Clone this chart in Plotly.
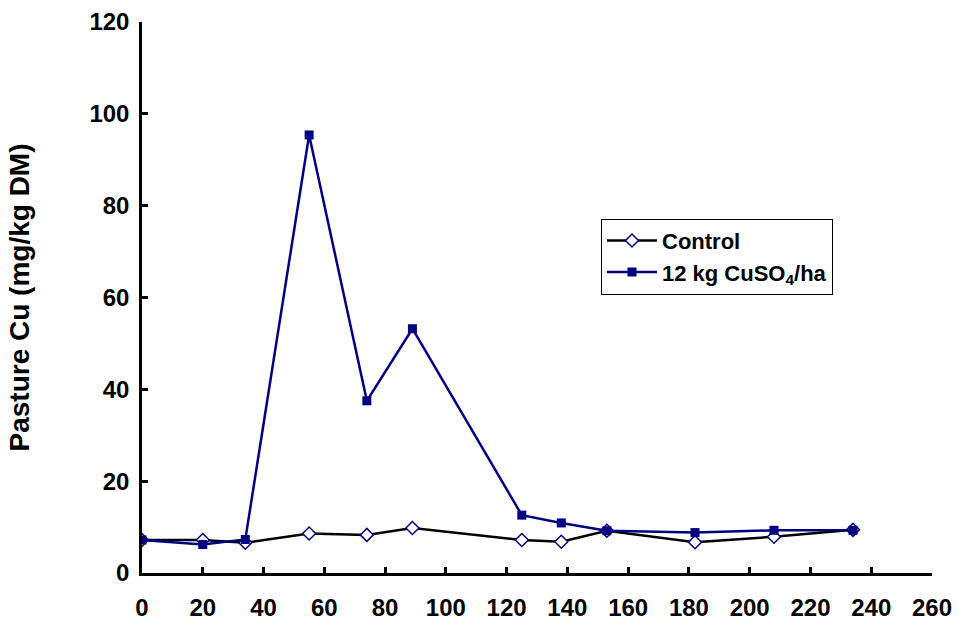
import plotly.graph_objects as go

days = [0, 20, 34, 55, 74, 89, 125, 138, 153, 182, 208, 234]
control = [7.2, 7.2, 6.6, 8.6, 8.3, 9.8, 7.2, 6.8, 9.2, 6.7, 7.9, 9.4]
treated = [7.2, 6.2, 7.3, 95.4, 37.5, 53.2, 12.6, 10.9, 9.2, 8.8, 9.3, 9.3]
x_ticks = list(range(0, 261, 20))
y_ticks = list(range(0, 121, 20))

NAVY = "#000080"
FONT = "Liberation Sans, Arial, sans-serif"

fig = go.Figure()
fig.add_trace(go.Scatter(
    x=days, y=control, mode="lines+markers", name="Control",
    line=dict(color="black", width=2.5),
    marker=dict(symbol="diamond", size=10, color="white", line=dict(color=NAVY, width=1.5)),
))
fig.add_trace(go.Scatter(
    x=days, y=treated, mode="lines+markers", name="12 kg CuSO<sub>4</sub>/ha",
    line=dict(color=NAVY, width=2.5),
    marker=dict(symbol="square", size=9, color=NAVY),
))

fig.update_layout(
    width=962, height=621,
    margin=dict(l=142, r=30, t=22, b=48, autoexpand=False),
    paper_bgcolor="white", plot_bgcolor="white",
    font=dict(family=FONT, size=24, color="black", weight="bold"),
    showlegend=True,
    legend=dict(
        x=0.581, y=0.643, xanchor="left", yanchor="top",
        bordercolor="black", borderwidth=1, bgcolor="white",
        font=dict(family=FONT, size=22, color="black", weight="bold"),
        itemwidth=50,
    ),
)
fig.update_xaxes(
    range=[0, 260], tickvals=x_ticks, ticktext=[str(v) for v in x_ticks],
    showline=True, linecolor="black", linewidth=2.5,
    ticks="inside", ticklen=6, tickwidth=2.5, tickcolor="black",
    showgrid=False, zeroline=False, ticklabelstandoff=11, automargin=False,
    tickfont=dict(family=FONT, size=24, weight="bold"),
)
fig.update_yaxes(
    range=[0, 120], tickvals=y_ticks, ticktext=[str(v) for v in y_ticks],
    showline=True, linecolor="black", linewidth=2.5,
    ticks="inside", ticklen=6, tickwidth=2.5, tickcolor="black",
    showgrid=False, zeroline=False, ticklabelstandoff=5, automargin=False,
    tickfont=dict(family=FONT, size=24, weight="bold"),
    title=dict(text="Pasture Cu (mg/kg DM)", standoff=52,
               font=dict(family=FONT, size=28, weight="bold")),
)

fig.write_html("out.html")
